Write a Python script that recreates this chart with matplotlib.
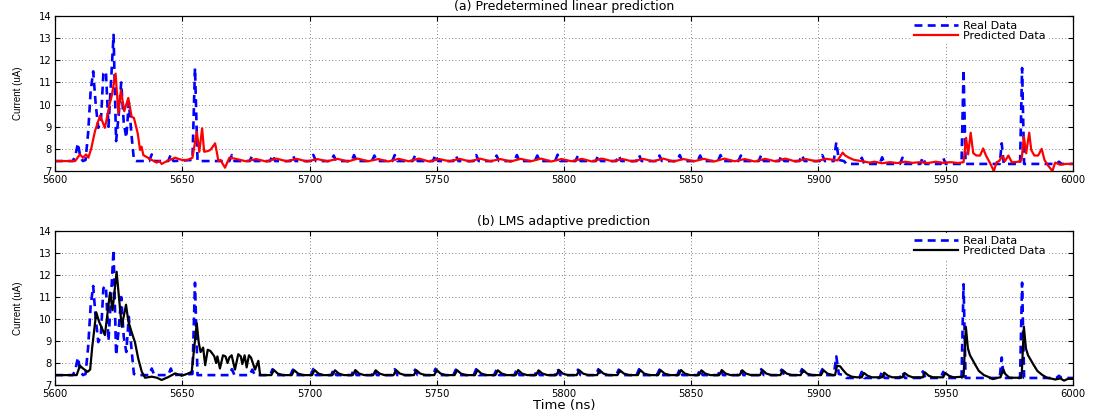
import matplotlib
matplotlib.use("Agg")
import matplotlib.pyplot as plt

plt.rcParams['font.family'] = ['DejaVu Sans']

# ---------------- data ----------------
x_ticks = [5600, 5650, 5700, 5750, 5800, 5850, 5900, 5950, 6000]
y_ticks = [7, 8, 9, 10, 11, 12, 13, 14]
title_a = "(a) Predetermined linear prediction"
title_b = "(b) LMS adaptive prediction"
x_label = "Time (ns)"
y_label = "Current (uA)"
legend_labels = ["Real Data", "Predicted Data"]

# Real data (blue dashed)
real_t = [5600, 5607, 5608, 5609, 5610, 5611, 5612, 5613, 5614, 5615,
          5616, 5617, 5618, 5619, 5620, 5621, 5622, 5623, 5624, 5625,
          5626, 5627, 5628, 5629, 5630, 5631, 5632,
          5637, 5638, 5639, 5644.5, 5645.5, 5646.5, 5654, 5655, 5656,
          5668.5, 5669.5, 5670.5, 5676.5, 5677.5, 5678.5,
          5684.5, 5685.5, 5686.5, 5692.5, 5693.5, 5694.5,
          5700.5, 5701.5, 5702.5, 5708.5, 5709.5, 5710.5,
          5716.5, 5717.5, 5718.5, 5724.5, 5725.5, 5726.5,
          5732.5, 5733.5, 5734.5, 5740.5, 5741.5, 5742.5,
          5748.5, 5749.5, 5750.5, 5756.5, 5757.5, 5758.5,
          5764.5, 5765.5, 5766.5, 5772.5, 5773.5, 5774.5,
          5780.5, 5781.5, 5782.5, 5788.5, 5789.5, 5790.5,
          5796.5, 5797.5, 5798.5, 5804.5, 5805.5, 5806.5,
          5812.5, 5813.5, 5814.5, 5820.5, 5821.5, 5822.5,
          5828.5, 5829.5, 5830.5, 5836.5, 5837.5, 5838.5,
          5844.5, 5845.5, 5846.5, 5852.5, 5853.5, 5854.5,
          5860.5, 5861.5, 5862.5, 5868.5, 5869.5, 5870.5,
          5876.5, 5877.5, 5878.5, 5884.5, 5885.5, 5886.5,
          5892.5, 5893.5, 5894.5, 5900.5, 5901.5, 5902.5,
          5906, 5907, 5908, 5910, 5911,
          5916, 5917, 5918, 5924, 5925, 5926, 5932, 5933, 5934,
          5940, 5941, 5942, 5948, 5949, 5950,
          5956.2, 5957, 5957.8, 5971.2, 5972, 5972.8, 5979.2, 5980, 5980.8,
          5993.5, 5994.5, 5995.5, 6000]
real_v = [7.45, 7.45, 7.7, 8.25, 7.6, 7.45, 7.5, 8.7, 10.6, 11.5,
          10.0, 8.95, 9.2, 11.4, 11.5, 9.0, 11.0, 13.15, 8.35, 9.5,
          11.0, 9.2, 8.5, 10.1, 8.7, 7.5, 7.45,
          7.45, 7.75, 7.45, 7.45, 7.75, 7.45, 7.5, 11.65, 7.45,
          7.45, 7.72, 7.45, 7.45, 7.7, 7.45,
          7.45, 7.72, 7.45, 7.45, 7.7, 7.45,
          7.45, 7.73, 7.45, 7.45, 7.7, 7.45,
          7.45, 7.72, 7.45, 7.45, 7.7, 7.45,
          7.45, 7.72, 7.45, 7.45, 7.7, 7.45,
          7.45, 7.74, 7.45, 7.45, 7.7, 7.45,
          7.45, 7.72, 7.45, 7.45, 7.7, 7.45,
          7.45, 7.72, 7.45, 7.45, 7.7, 7.45,
          7.45, 7.74, 7.45, 7.45, 7.7, 7.45,
          7.45, 7.72, 7.45, 7.45, 7.7, 7.45,
          7.45, 7.72, 7.45, 7.45, 7.7, 7.45,
          7.45, 7.72, 7.45, 7.45, 7.7, 7.45,
          7.45, 7.72, 7.45, 7.45, 7.7, 7.45,
          7.45, 7.72, 7.45, 7.45, 7.7, 7.45,
          7.45, 7.72, 7.45, 7.45, 7.72, 7.45,
          7.45, 8.3, 7.5, 7.45, 7.32,
          7.32, 7.6, 7.32, 7.32, 7.62, 7.32, 7.32, 7.6, 7.32,
          7.32, 7.62, 7.32, 7.32, 7.6, 7.32,
          7.32, 11.58, 7.32, 7.32, 8.25, 7.32, 7.32, 11.65, 7.32,
          7.32, 7.42, 7.32, 7.32]

# (a) Predetermined linear prediction (red)
pred_a_t = [5600, 5607.9, 5609.8, 5611, 5612.2, 5613.1, 5614.2, 5615.7, 5617.7, 5619.6,
            5621.6, 5622.2, 5623.8, 5624.9, 5625.9, 5627.2, 5628.8, 5630.1, 5631, 5632.5,
            5633.4, 5634, 5634.7, 5636.5, 5638, 5640, 5641, 5641.9, 5644, 5647.2,
            5649.8, 5652, 5654, 5655.7, 5656.7, 5657.8, 5658.6, 5660, 5661, 5662,
            5662.9, 5663.5, 5664.2, 5665, 5666.8, 5668.5,
            5671, 5675, 5679, 5683, 5687, 5691, 5695, 5699, 5703, 5707,
            5711, 5715, 5719, 5723, 5727, 5731, 5735, 5739, 5743, 5747,
            5751, 5755, 5759, 5763, 5767, 5771, 5775, 5779, 5783, 5787,
            5791, 5795, 5799, 5803, 5807, 5811, 5815, 5819, 5823, 5827,
            5831, 5835, 5839, 5843, 5847, 5851, 5855, 5859, 5863, 5867,
            5871, 5875, 5879, 5883, 5887, 5891, 5895, 5899, 5903,
            5907.5, 5909.5, 5910.5, 5912, 5914, 5917, 5920, 5922, 5925, 5928,
            5931, 5934, 5937, 5940, 5943, 5946, 5949, 5952, 5955, 5957,
            5958, 5958.8, 5959.8, 5960.8, 5962, 5963.5, 5964.7, 5965.8, 5967.4, 5968.9,
            5970, 5971, 5972.2, 5973.3, 5974.6, 5976, 5978.5, 5979.8, 5980.7, 5981.6,
            5982.8, 5983.6, 5984.8, 5986.3, 5987.7, 5988.8, 5990, 5991.9, 5993, 5995,
            5997, 6000]
pred_a_v = [7.45, 7.45, 7.75, 7.6, 7.75, 7.6, 8.0, 8.8, 9.5, 8.95,
            10.1, 10.35, 11.4, 9.6, 10.65, 9.7, 10.3, 9.45, 9.4, 8.7,
            7.95, 8.1, 7.72, 7.6, 7.5, 7.38, 7.45, 7.32, 7.45, 7.6,
            7.5, 7.5, 7.6, 8.78, 7.87, 8.93, 7.87, 7.9, 7.95, 8.1,
            8.25, 7.9, 7.45, 7.5, 7.15, 7.6,
            7.55, 7.44, 7.54, 7.43, 7.56, 7.44, 7.55, 7.43, 7.54, 7.44,
            7.55, 7.43, 7.56, 7.44, 7.54, 7.43, 7.55, 7.44, 7.56, 7.43,
            7.54, 7.44, 7.55, 7.43, 7.56, 7.44, 7.54, 7.43, 7.55, 7.44,
            7.56, 7.43, 7.54, 7.44, 7.55, 7.43, 7.56, 7.44, 7.54, 7.43,
            7.55, 7.44, 7.56, 7.43, 7.54, 7.44, 7.55, 7.43, 7.56, 7.44,
            7.54, 7.43, 7.55, 7.44, 7.56, 7.43, 7.54, 7.44, 7.55,
            7.48, 7.83, 7.7, 7.6, 7.5, 7.45, 7.38, 7.42, 7.35, 7.4,
            7.36, 7.42, 7.37, 7.4, 7.36, 7.42, 7.37, 7.4, 7.36, 7.4,
            8.5, 7.75, 8.73, 7.81, 7.7, 7.7, 8.02, 7.7, 7.36, 7.0,
            7.4, 7.45, 7.68, 7.45, 7.7, 7.39, 7.42, 7.5, 8.55, 7.8,
            8.73, 7.95, 7.7, 7.7, 8.0, 7.5, 7.28, 7.0, 7.38, 7.28,
            7.32, 7.32]

# (b) LMS adaptive prediction (black)
pred_b_t = [5600, 5608.5, 5609.8, 5611, 5612.8, 5613.8, 5614.6, 5616.2, 5617.3, 5619,
            5619.6, 5621, 5621.6, 5622.6, 5624.2, 5625.5, 5626.2, 5627.9, 5628.8, 5630.1,
            5631.4, 5632.7, 5634.1, 5635.4, 5638, 5640, 5641.9, 5644.5, 5647.2, 5649.8,
            5652.5, 5653.7, 5655.7,
            5656.5, 5657.2, 5658.2, 5659, 5660, 5661, 5662, 5662.6, 5663.3, 5663.8,
            5664.8, 5666, 5667, 5667.8, 5668.5, 5669.4, 5670.7, 5672, 5673, 5673.6,
            5674.5, 5675.3, 5676.2, 5677, 5678.6, 5679.9, 5680.6,
            5685, 5686, 5687.5, 5689.5, 5693, 5694, 5695.5, 5697.5,
            5701, 5702, 5703.5, 5705.5, 5709, 5710, 5711.5, 5713.5,
            5717, 5718, 5719.5, 5721.5, 5725, 5726, 5727.5, 5729.5,
            5733, 5734, 5735.5, 5737.5, 5741, 5742, 5743.5, 5745.5,
            5749, 5750, 5751.5, 5753.5, 5757, 5758, 5759.5, 5761.5,
            5765, 5766, 5767.5, 5769.5, 5773, 5774, 5775.5, 5777.5,
            5781, 5782, 5783.5, 5785.5, 5789, 5790, 5791.5, 5793.5,
            5797, 5798, 5799.5, 5801.5, 5805, 5806, 5807.5, 5809.5,
            5813, 5814, 5815.5, 5817.5, 5821, 5822, 5823.5, 5825.5,
            5829, 5830, 5831.5, 5833.5, 5837, 5838, 5839.5, 5841.5,
            5845, 5846, 5847.5, 5849.5, 5853, 5854, 5855.5, 5857.5,
            5861, 5862, 5863.5, 5865.5, 5869, 5870, 5871.5, 5873.5,
            5877, 5878, 5879.5, 5881.5, 5885, 5886, 5887.5, 5889.5,
            5893, 5894, 5895.5, 5897.5, 5901, 5902, 5903.5, 5905.5,
            5906.5, 5907.3, 5908.5, 5909.5, 5911, 5913, 5915,
            5917, 5917.8, 5919.3, 5921, 5925, 5925.8, 5927.3, 5929,
            5933, 5933.8, 5935.3, 5937, 5941, 5941.8, 5943.3, 5945,
            5949, 5949.8, 5951.3, 5953,
            5957, 5957.9, 5958.7, 5959.5, 5961.5, 5963, 5965, 5966.5, 5968.5, 5970,
            5971.5, 5972.6, 5973.4, 5975, 5979.8, 5980.7, 5981.5, 5982.3, 5984.4, 5986,
            5988, 5990, 5992, 5993, 5995, 5996.5, 5998, 6000]
pred_b_v = [7.45, 7.45, 7.88, 7.75, 7.6, 7.7, 8.7, 10.3, 9.88, 9.42,
            9.27, 10.6, 11.2, 10.4, 12.15, 10.5, 9.65, 10.65, 9.9, 9.4,
            8.95, 8.2, 7.6, 7.33, 7.38, 7.33, 7.23, 7.36, 7.53, 7.42,
            7.53, 7.6, 9.8,
            8.9, 8.5, 8.7, 7.9, 8.6, 8.55, 8.4, 8.3, 8.0, 8.3,
            7.75, 8.35, 8.3, 8.0, 8.25, 8.35, 7.7, 8.4, 8.3, 7.95,
            8.35, 7.8, 8.35, 8.25, 7.7, 8.1, 7.45,
            7.45, 7.68, 7.52, 7.45, 7.45, 7.67, 7.52, 7.45,
            7.45, 7.68, 7.52, 7.45, 7.45, 7.67, 7.52, 7.45,
            7.45, 7.68, 7.52, 7.45, 7.45, 7.67, 7.52, 7.45,
            7.45, 7.68, 7.52, 7.45, 7.45, 7.67, 7.52, 7.45,
            7.45, 7.68, 7.52, 7.45, 7.45, 7.67, 7.52, 7.45,
            7.45, 7.68, 7.52, 7.45, 7.45, 7.67, 7.52, 7.45,
            7.45, 7.68, 7.52, 7.45, 7.45, 7.67, 7.52, 7.45,
            7.45, 7.68, 7.52, 7.45, 7.45, 7.67, 7.52, 7.45,
            7.45, 7.68, 7.52, 7.45, 7.45, 7.67, 7.52, 7.45,
            7.45, 7.68, 7.52, 7.45, 7.45, 7.67, 7.52, 7.45,
            7.45, 7.68, 7.52, 7.45, 7.45, 7.67, 7.52, 7.45,
            7.45, 7.68, 7.52, 7.45, 7.45, 7.67, 7.52, 7.45,
            7.45, 7.68, 7.52, 7.45, 7.45, 7.67, 7.52, 7.45,
            7.45, 7.68, 7.52, 7.45, 7.45, 7.67, 7.52, 7.45,
            7.45, 7.88, 7.85, 7.7, 7.5, 7.38, 7.35,
            7.35, 7.55, 7.42, 7.35, 7.35, 7.56, 7.42, 7.35,
            7.35, 7.55, 7.42, 7.35, 7.35, 7.58, 7.42, 7.35,
            7.35, 7.55, 7.42, 7.35,
            7.38, 9.65, 8.67, 8.36, 7.94, 7.64, 7.45, 7.38, 7.27, 7.32,
            7.35, 7.71, 7.5, 7.33, 7.33, 9.65, 8.67, 8.36, 7.94, 7.64,
            7.45, 7.32, 7.28, 7.25, 7.3, 7.2, 7.28, 7.28]

# ---------------- figure ----------------
fig = plt.figure(figsize=(10.96, 4.16), dpi=100)
ax_a = fig.add_axes([0.0502, 0.5889, 0.9288, 0.3726])
ax_b = fig.add_axes([0.0502, 0.0745, 0.9288, 0.3702])

blue = (0.0, 0.0, 1.0)


def style(ax, title):
    ax.set_xlim(5600, 6000)
    ax.set_ylim(7, 14)
    ax.set_xticks(x_ticks)
    ax.set_yticks(y_ticks)
    ax.set_axisbelow(True)
    ax.grid(True, linestyle=(0, (1, 3)), color='#555555', linewidth=0.6)
    ax.tick_params(direction='in', top=True, right=True, length=3.5,
                   width=0.8, labelsize=7.2)
    ax.tick_params(axis='x', pad=3.2)
    ax.tick_params(axis='y', pad=2.5)
    for s in ax.spines.values():
        s.set_linewidth(0.9)
    ax.set_ylabel(y_label, family=['Liberation Sans', 'DejaVu Sans'], fontsize=7)
    ax.yaxis.set_label_coords(-0.031, 0.5)
    ax.text(0.5, 1.06, title, transform=ax.transAxes, ha='center',
            va='center', fontsize=9)


for ax, pt, pv, col, title in [(ax_a, pred_a_t, pred_a_v, 'red', title_a),
                               (ax_b, pred_b_t, pred_b_v, 'black', title_b)]:
    ax.plot(real_t, real_v, color=blue, linewidth=1.9, dashes=(3, 2),
            label=legend_labels[0])
    ax.plot(pt, pv, color=col, linewidth=1.6, label=legend_labels[1])
    style(ax, title)
    leg = ax.legend(loc='upper right', bbox_to_anchor=(0.975, 0.985),
                    fontsize=8, frameon=True, fancybox=False,
                    edgecolor='white', facecolor='white', framealpha=1,
                    handlelength=3.9, handletextpad=0.45, labelspacing=0.0,
                    borderpad=0.2, borderaxespad=0.0)

ax_b.set_xlabel(x_label, fontsize=9.5)
ax_b.xaxis.set_label_coords(0.5, -0.092)

fig.savefig("out.png", dpi=100)
